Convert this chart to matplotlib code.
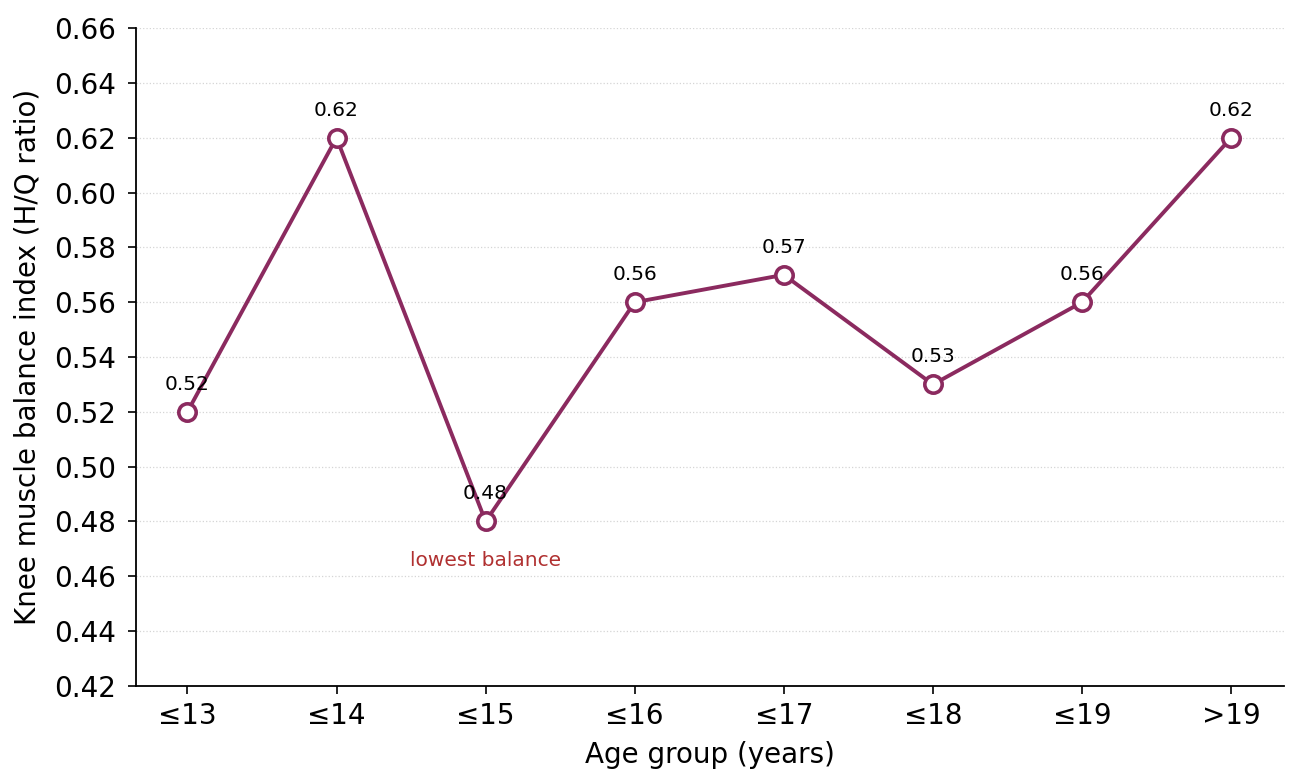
import matplotlib
matplotlib.use("Agg")
import matplotlib.pyplot as plt

categories = ["≤13", "≤14", "≤15", "≤16", "≤17", "≤18", "≤19", ">19"]
hq_ratio = [0.52, 0.62, 0.48, 0.56, 0.57, 0.53, 0.56, 0.62]
yticks = [0.42, 0.44, 0.46, 0.48, 0.50, 0.52, 0.54, 0.56, 0.58, 0.60, 0.62, 0.64, 0.66]

color = "#8B2A5F"

fig = plt.figure(figsize=(13.01, 7.83), dpi=100)
ax = fig.add_axes([0.1045, 0.124, 0.8825, 0.840])

x = list(range(len(categories)))
ax.plot(x, hq_ratio, color=color, linewidth=2.8, marker="o", markersize=12.5,
        markerfacecolor="white", markeredgecolor=color, markeredgewidth=2.6, zorder=3)

for xi, v in zip(x, hq_ratio):
    ax.annotate(f"{v:.2f}", (xi, v), xytext=(0, 13), textcoords="offset points",
                ha="center", va="bottom", fontsize=14.5, color="black", zorder=4)

imin = hq_ratio.index(min(hq_ratio))
ax.annotate("lowest balance", (imin, hq_ratio[imin]), xytext=(0, -21),
            textcoords="offset points", ha="center", va="top", fontsize=14.5,
            color="#B03030")

ax.set_xlim(-0.345, 7.355)
ax.set_ylim(0.42, 0.66)
ax.set_xticks(x)
ax.set_xticklabels(categories)
ax.set_yticks(yticks)
ax.set_yticklabels([f"{t:.2f}" for t in yticks])
ax.tick_params(axis="both", labelsize=20, length=5.5, width=1.2)
ax.tick_params(axis="y", pad=9)
ax.tick_params(axis="x", pad=6)
ax.yaxis.grid(True, linestyle=":", color="#d5d5d5", linewidth=0.9)
ax.set_axisbelow(True)
for s in ["top", "right"]:
    ax.spines[s].set_visible(False)
for s in ["left", "bottom"]:
    ax.spines[s].set_linewidth(1.3)

ax.set_xlabel("Age group (years)", fontsize=20, labelpad=8)
ax.set_ylabel("Knee muscle balance index (H/Q ratio)", fontsize=20, labelpad=9)

fig.savefig("out.png", dpi=100)
